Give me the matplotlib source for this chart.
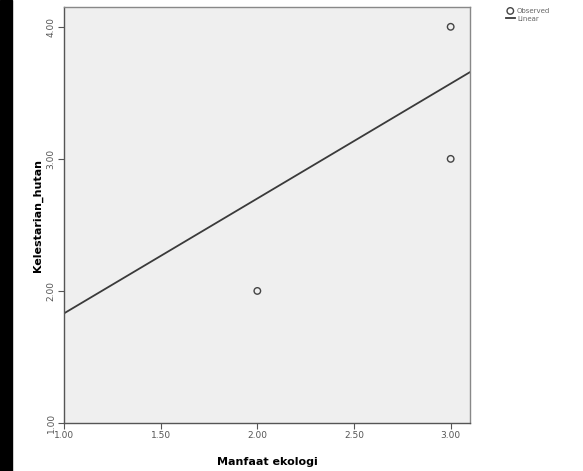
import numpy as np
import matplotlib.pyplot as plt
from matplotlib.patches import Rectangle

# observed points (distinct values visible on the chart)
manfaat_ekologi = [2.0, 3.0, 3.0]
kelestarian_hutan = [2.0, 3.0, 4.0]

# fitted linear model
intercept = 0.96
slope = 0.87

x_ticks = [1.0, 1.5, 2.0, 2.5, 3.0]
y_ticks = [1.0, 2.0, 3.0, 4.0]

fig = plt.figure(figsize=(5.83, 4.71), dpi=100)
fig.patches.append(Rectangle((0, 0), 12 / 583, 1, transform=fig.transFigure,
                             color='black', zorder=0))

ax = fig.add_axes([64 / 583, 48 / 471, 406 / 583, 416 / 471])
ax.set_facecolor('#efefef')

xl = (1.0, 3.1)
ax.set_xlim(*xl)
ax.set_ylim(1.0, 4.15)

xs = np.array(xl)
ax.plot(xs, intercept + slope * xs, color='#3a3a3a', lw=1.3, label='Linear')
ax.scatter(manfaat_ekologi, kelestarian_hutan, s=22, facecolors='none',
           edgecolors='#444444', linewidths=1.0, label='Observed', zorder=3)

for sp in ax.spines.values():
    sp.set_color('#888888')
    sp.set_linewidth(1.0)
ax.spines['left'].set_color('#555555')
ax.spines['bottom'].set_color('#555555')

ax.set_xticks(x_ticks)
ax.set_xticklabels([f'{v:.2f}' for v in x_ticks], fontsize=6.5, color='#555555')
ax.set_yticks(y_ticks)
ax.set_yticklabels([f'{v:.2f}' for v in y_ticks], fontsize=6.5, color='#555555',
                   rotation=90, va='center')
ax.tick_params(length=4, width=0.8, color='#555555', pad=2)

ax.set_xlabel('Manfaat ekologi', fontsize=8, fontweight='bold', labelpad=12)
ax.set_ylabel('Kelestarian_hutan', fontsize=8, fontweight='bold', labelpad=3)

handles, labels = ax.get_legend_handles_labels()
leg = fig.legend(handles[::-1], labels[::-1], loc='upper left',
                 bbox_to_anchor=(503 / 583, 1 - 5 / 471), frameon=False,
                 fontsize=5, handlelength=1.3, labelspacing=0.3,
                 handletextpad=0.3, borderaxespad=0)
for t in leg.get_texts():
    t.set_color('#666666')

fig.savefig('out.png', dpi=100)
